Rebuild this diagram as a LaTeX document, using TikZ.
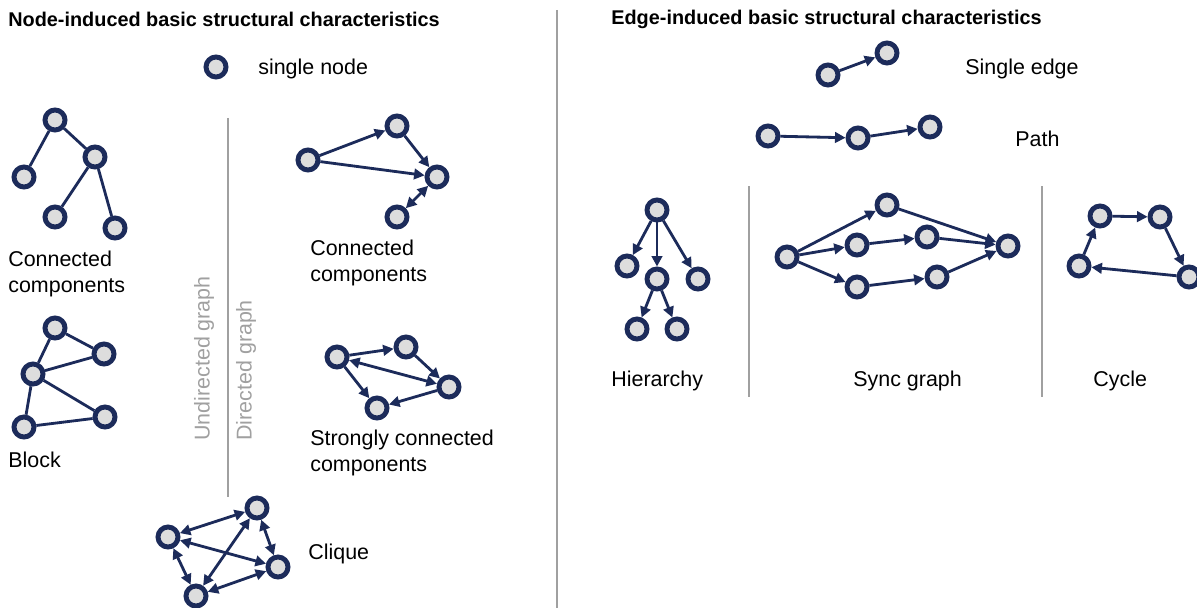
\documentclass[tikz,border=0pt]{standalone}
\usepackage{fontspec}
\setmainfont{Liberation Sans}
\usepackage{xcolor}
\definecolor{navy}{HTML}{1C2B5A}
\definecolor{nodefill}{HTML}{DDDDDD}
\definecolor{rulegray}{HTML}{A0A0A0}
\usetikzlibrary{arrows.meta}

\tikzset{
  vertex/.style={circle, draw=navy, fill=nodefill, line width=2.8pt,
    minimum size=0.4cm, inner sep=0pt},
  link/.style={draw=navy, line width=1.6pt},
  arc/.style={link, -{Triangle[length=6pt,width=6pt]}},
  biarc/.style={link, {Triangle[length=6pt,width=6pt]}-{Triangle[length=6pt,width=6pt]}},
  lbl/.style={font=\fontsize{12.2}{14.7}\selectfont, align=left,
    inner sep=0pt, anchor=west},
  heading/.style={font=\fontsize{11.3}{13.5}\selectfont\bfseries,
    inner sep=0pt, anchor=west},
  divider/.style={draw=rulegray, line width=1.2pt},
}

\begin{document}
\begin{tikzpicture}[x=0.02cm, y=-0.02cm]
  \useasboundingbox (0,0) rectangle (1197,608);

  % Titles
  \node[heading] (tnode) at (8,19) {Node-induced basic structural characteristics};
  \node[heading] (tedge) at (611,19) {Edge-induced basic structural characteristics};

  % Dividers
  \draw[divider] (557,10) -- (557,608);
  \draw[divider] (228,118) -- (228,497);
  \draw[divider] (749,186) -- (749,397);
  \draw[divider] (1042,186) -- (1042,397);

  % single node
  \node[vertex] (single) at (216,67) {};
  \node[lbl] (singlelbl) at (258,69) {single node};

  % Connected components (undirected)
  \node[vertex] (ua) at (55,120) {};
  \node[vertex] (ub) at (95,157) {};
  \node[vertex] (uc) at (24,177) {};
  \node[vertex] (ud) at (55,217) {};
  \node[vertex] (ue) at (115,228) {};
  \draw[link] (ua) -- (uc);
  \draw[link] (ua) -- (ub);
  \draw[link] (ub) -- (ud);
  \draw[link] (ub) -- (ue);
  \node[lbl] (uccl) at (8,274) {Connected\\components};

  % Block
  \node[vertex] (ba) at (55,328) {};
  \node[vertex] (bb) at (104,354) {};
  \node[vertex] (bc) at (33,374) {};
  \node[vertex] (bd) at (105,417) {};
  \node[vertex] (be) at (24,427) {};
  \draw[link] (ba) -- (bb);
  \draw[link] (ba) -- (bc);
  \draw[link] (bc) -- (bb);
  \draw[link] (bc) -- (bd);
  \draw[link] (bc) -- (be);
  \draw[link] (be) -- (bd);
  \node[lbl] (blockl) at (8,460) {Block};

  % Graph type labels
  \node[lbl, text=rulegray, rotate=90] (undir) at (204,441) {Undirected graph};
  \node[lbl, text=rulegray, rotate=90] (dir) at (246,441) {Directed graph};

  % Connected components (directed)
  \node[vertex] (da) at (308,160) {};
  \node[vertex] (db) at (397,126) {};
  \node[vertex] (dc) at (437,177) {};
  \node[vertex] (dd) at (397,217) {};
  \draw[arc] (da) -- (db);
  \draw[arc] (da) -- (dc);
  \draw[arc] (db) -- (dc);
  \draw[biarc] (dc) -- (dd);
  \node[lbl] (dccl) at (310,263) {Connected\\components};

  % Strongly connected components
  \node[vertex] (sa) at (337,357) {};
  \node[vertex] (sb) at (406,347) {};
  \node[vertex] (sc) at (449,387) {};
  \node[vertex] (sd) at (377,408) {};
  \draw[arc] (sa) -- (sb);
  \draw[arc] (sb) -- (sc);
  \draw[biarc] (sc) -- (sa);
  \draw[arc] (sa) -- (sd);
  \draw[arc] (sc) -- (sd);
  \node[lbl] (sccl) at (310,453) {Strongly connected\\components};

  % Clique
  \node[vertex] (qa) at (168,537) {};
  \node[vertex] (qb) at (257,508) {};
  \node[vertex] (qc) at (278,567) {};
  \node[vertex] (qd) at (196,596) {};
  \foreach \u/\v in {qa/qb, qa/qc, qa/qd, qb/qc, qb/qd, qc/qd}
    \draw[biarc] (\u) -- (\v);
  \node[lbl] (cliquel) at (308,554) {Clique};

  % Single edge
  \node[vertex] (ea) at (828,75) {};
  \node[vertex] (eb) at (887,53) {};
  \draw[arc] (ea) -- (eb);
  \node[lbl] (edgel) at (965,69) {Single edge};

  % Path
  \node[vertex] (pa) at (768,136) {};
  \node[vertex] (pb) at (858,138) {};
  \node[vertex] (pc) at (930,127) {};
  \draw[arc] (pa) -- (pb);
  \draw[arc] (pb) -- (pc);
  \node[lbl] (pathl) at (1015,139) {Path};

  % Hierarchy
  \node[vertex] (ha) at (657,210) {};
  \node[vertex] (hb) at (627,266) {};
  \node[vertex] (hc) at (657,279) {};
  \node[vertex] (hd) at (698,279) {};
  \node[vertex] (he) at (637,329) {};
  \node[vertex] (hf) at (677,329) {};
  \foreach \u/\v in {ha/hb, ha/hc, ha/hd, hc/he, hc/hf}
    \draw[arc] (\u) -- (\v);
  \node[lbl] (hierl) at (611,381) {Hierarchy};

  % Sync graph
  \node[vertex] (ga) at (787,257) {};
  \node[vertex] (gb) at (887,205) {};
  \node[vertex] (gc) at (857,245) {};
  \node[vertex] (gd) at (927,237) {};
  \node[vertex] (ge) at (857,287) {};
  \node[vertex] (gf) at (937,277) {};
  \node[vertex] (gg) at (1008,246) {};
  \foreach \u/\v in {ga/gb, ga/gc, ga/ge, gb/gg, gc/gd, gd/gg, ge/gf, gf/gg}
    \draw[arc] (\u) -- (\v);
  \node[lbl] (syncl) at (853,381) {Sync graph};

  % Cycle
  \node[vertex] (ca) at (1100,216) {};
  \node[vertex] (cb) at (1160,217) {};
  \node[vertex] (cc) at (1189,277) {};
  \node[vertex] (cd) at (1079,266) {};
  \foreach \u/\v in {ca/cb, cb/cc, cc/cd, cd/ca}
    \draw[arc] (\u) -- (\v);
  \node[lbl] (cyclel) at (1093,381) {Cycle};
\end{tikzpicture}
\end{document}
